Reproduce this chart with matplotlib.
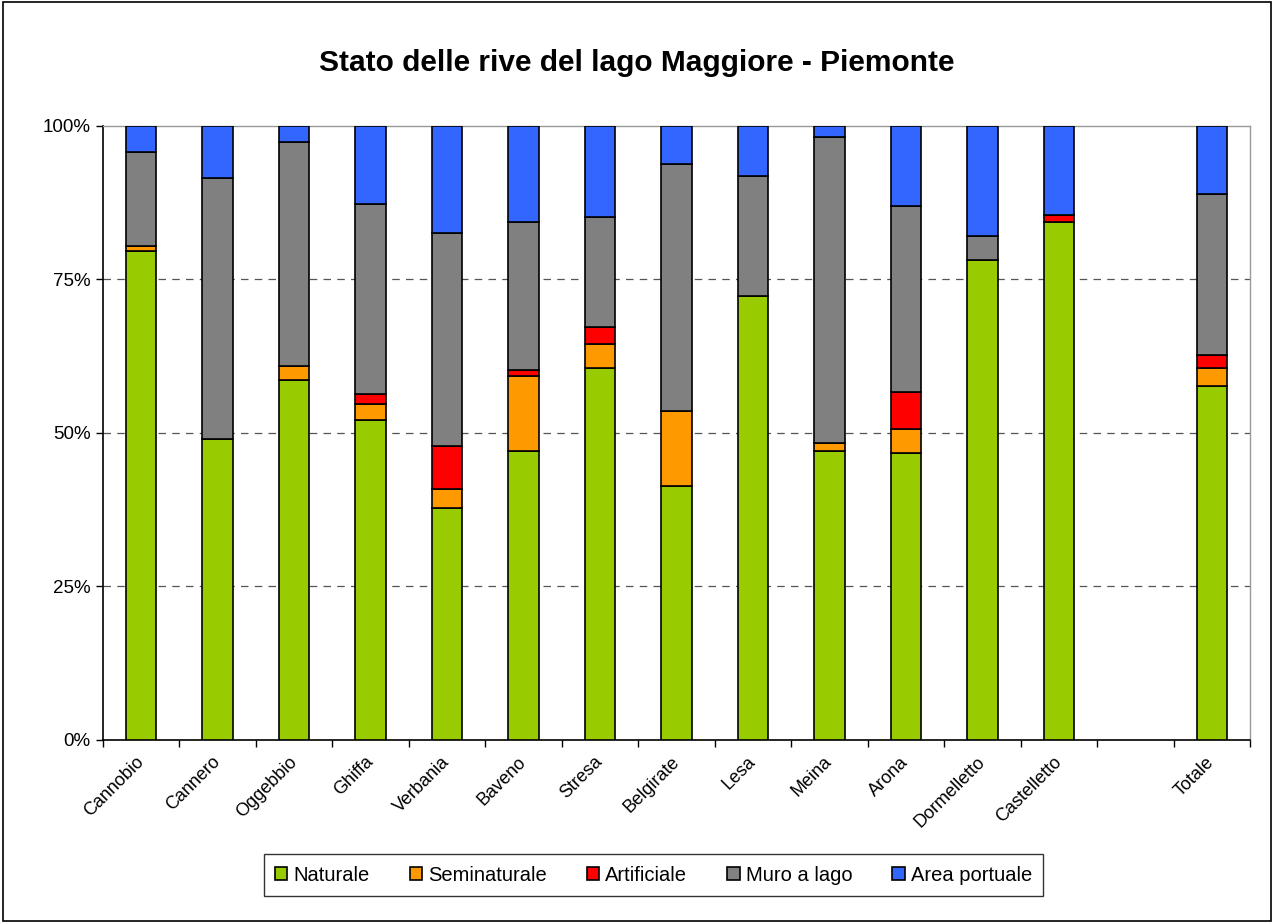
import matplotlib
matplotlib.use("Agg")
import matplotlib.pyplot as plt
import numpy as np

plt.rcParams['font.family'] = ['Liberation Sans', 'DejaVu Sans']

comuni = ["Cannobio", "Cannero", "Oggebbio", "Ghiffa", "Verbania", "Baveno",
          "Stresa", "Belgirate", "Lesa", "Meina", "Arona", "Dormelletto",
          "Castelletto", "", "Totale"]

# percentuali (slot vuoto prima di Totale)
naturale     = [79.7, 49.0, 58.7, 52.1, 37.8, 47.1, 60.6, 41.3, 72.3, 47.1, 46.8, 78.1, 84.4, 0, 57.7]
seminaturale = [0.7, 0.0, 2.2, 2.6, 3.0, 12.2, 3.9, 12.2, 0.0, 1.3, 3.8, 0.0, 0.0, 0, 2.9]
artificiale  = [0.0, 0.0, 0.0, 1.7, 7.1, 1.0, 2.8, 0.0, 0.0, 0.0, 6.0, 0.0, 1.1, 0, 2.1]
muro         = [15.4, 42.6, 36.5, 30.9, 34.7, 24.1, 17.9, 40.3, 19.6, 49.8, 30.3, 4.0, 0.0, 0, 26.3]
portuale     = [4.2, 8.4, 2.6, 12.7, 17.4, 15.6, 14.8, 6.2, 8.1, 1.8, 13.1, 17.9, 14.5, 0, 11.0]

serie = [("Naturale", naturale, "#99cc00"),
         ("Seminaturale", seminaturale, "#ff9900"),
         ("Artificiale", artificiale, "#ff0000"),
         ("Muro a lago", muro, "#808080"),
         ("Area portuale", portuale, "#3366ff")]

fig = plt.figure(figsize=(12.74, 9.23), dpi=100)
ax = fig.add_axes([0.0808, 0.1983, 0.9004, 0.6652])

x = np.arange(len(comuni))
bottom = np.zeros(len(comuni))
for nome, vals, col in serie:
    vals = np.array(vals, dtype=float)
    m = vals > 0
    ax.bar(x[m], vals[m], 0.4, bottom=bottom[m], color=col, edgecolor="black",
           linewidth=1.2, label=nome, zorder=3)
    bottom += vals

ax.set_xlim(-0.5, len(comuni) - 0.5)
ax.set_ylim(0, 100)
ax.set_yticks([0, 25, 50, 75, 100])
ax.set_yticklabels(["0%", "25%", "50%", "75%", "100%"], fontsize=13.5)
for yv in [25, 50, 75]:
    ax.axhline(yv, color="#555555", linestyle=(0, (6, 5)), linewidth=0.9, zorder=1)

# tick tra le categorie, etichette al centro
ax.set_xticks(np.arange(len(comuni) + 1) - 0.5)
ax.set_xticklabels([])
ax.set_xticks(x, minor=True)
ax.set_xticklabels(comuni, minor=True, rotation=45, ha="right", va="center",
                   rotation_mode="anchor", fontsize=13)
ax.tick_params(axis="x", which="minor", length=0, pad=14)
ax.tick_params(axis="x", which="major", direction="out", length=5, width=1)
ax.tick_params(axis="y", direction="out", length=5, width=1, pad=4)

for s in ["top", "right"]:
    ax.spines[s].set_color("#999999")
    ax.spines[s].set_linewidth(1)
for s in ["left", "bottom"]:
    ax.spines[s].set_color("black")
    ax.spines[s].set_linewidth(1.2)

fig.text(0.5, 0.932, "Stato delle rive del lago Maggiore - Piemonte",
         ha="center", va="center", fontsize=21.5, fontweight="bold")

leg = fig.legend(loc="center", bbox_to_anchor=(0.513, 0.052), ncol=5,
                 fontsize=14.5, frameon=True, fancybox=False, handlelength=0.6,
                 handleheight=0.6, handletextpad=0.3, columnspacing=2.0,
                 borderpad=0.55)
leg.get_frame().set_edgecolor("black")
leg.get_frame().set_linewidth(1)

fig.patches.append(plt.Rectangle((0.002, 0.002), 0.996, 0.996, transform=fig.transFigure,
                                 fill=False, edgecolor="black", linewidth=1.2))

fig.savefig("out.png", dpi=100)
